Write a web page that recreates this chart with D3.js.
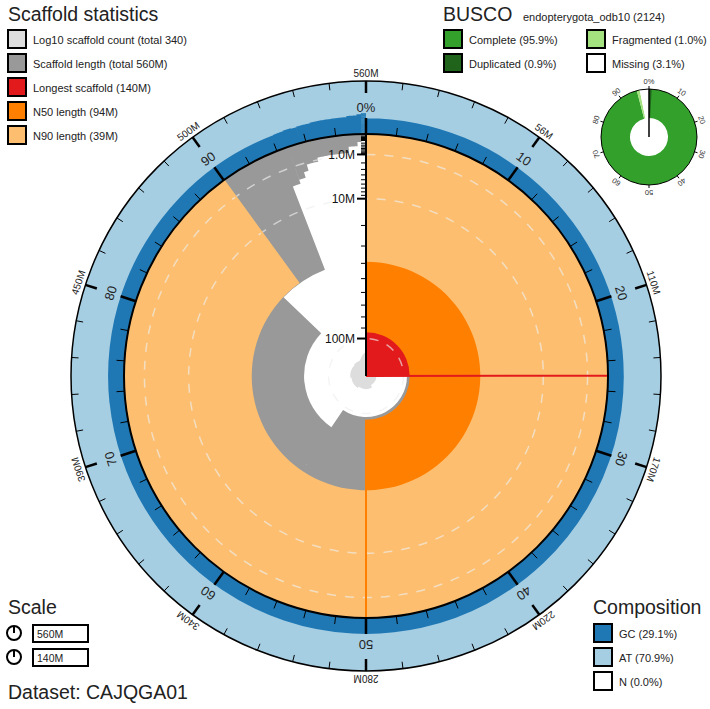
<!DOCTYPE html>
<html>
<head>
<meta charset="utf-8">
<script src="https://cdn.jsdelivr.net/npm/d3@7"></script>
<style>
  body { margin: 0; background: #fff; }
  svg { font-family: "Liberation Sans", Arial, sans-serif; }
</style>
</head>
<body>
<svg id="chart" width="710" height="709"></svg>
<script>
// ── Data ──────────────────────────────────────────────────────
const scaffoldLengths = [140e6, 96.6e6, 96.6e6, 77.6e6, 77.5e6, 39.2e6, 3.6e6, 2.9e6, 2.0e6];
const scaffoldGC = [0.289, 0.290, 0.291, 0.290, 0.292, 0.293, 0.30, 0.31, 0.30];
// the long tail of short scaffolds, grouped
const tailCounts = [4, 16, 10, 10, 291];
const tailLengths = [1.2e6, 0.8e6, 0.35e6, 0.15e6, 0.006e6];
const tailGC = [0.31, 0.32, 0.34, 0.36, 0.38];

const longestLength = 140e6;
const n50Length = 94e6;
const n90Length = 39e6;
const scaffoldCount = 340;

const compositionLabels = ['GC (29.1%)', 'AT (70.9%)', 'N (0.0%)'];
const buscoLineage = 'endopterygota_odb10 (2124)';
const buscoLabels = ['Complete (95.9%)', 'Duplicated (0.9%)', 'Fragmented (1.0%)', 'Missing (3.1%)'];
const buscoComplete = 0.959;
const buscoDuplicated = 0.009;
const buscoFragmented = 0.010;
const datasetName = 'CAJQGA01';

// colours
const C_COUNT = '#dddddd', C_LEN = '#999999', C_LONG = '#e31a1c', C_N50 = '#ff7f00', C_N90 = '#fdbf6f';
const C_GC = '#1f78b4', C_AT = '#a6cee3';
const C_COMPLETE = '#33a02c', C_DUP = '#20641c', C_FRAG = '#a3e27f';

const svg = d3.select('#chart');
const fmt = d3.format('.2s');
const TAU = Math.PI * 2;

// ── Build scaffold list ──────────────────────────────────────
const lengths = scaffoldLengths.concat(...tailCounts.map((n, i) => Array(n).fill(tailLengths[i])));
const gcs = scaffoldGC.concat(...tailCounts.map((n, i) => Array(n).fill(tailGC[i])));
const total = d3.sum(lengths);

const cx = 366, cy = 376, R_IN = 242, R_OUT = 295;
const aScale = d3.scaleLinear().domain([0, total]).range([0, TAU]);
const rScale = d3.scaleSqrt().domain([0, longestLength]).range([R_IN, 0]).clamp(true);
const cScale = d3.scaleSqrt().domain([0, Math.log10(scaffoldCount)]).range([0, 30]);
// GC band: 0..100% maps from just under the inner ring outward
const gcScale = d3.scaleLinear().domain([0, 1]).range([R_IN - 1, R_IN + 57]);

let cum = 0;
const scaffolds = lengths.map((len, i) => {
  const a0 = aScale(cum);
  cum += len;
  return { len, gc: gcs[i], a0, a1: aScale(cum), count: i + 1 };
});

const arc = d3.arc();
const g = svg.append('g').attr('transform', `translate(${cx},${cy})`);

// ── Composition ring ─────────────────────────────────────────
g.append('path')
  .attr('d', arc({ innerRadius: R_IN, outerRadius: R_OUT, startAngle: 0, endAngle: TAU }))
  .attr('fill', C_AT);

g.append('path')
  .attr('d', scaffolds.map(s => arc({ innerRadius: gcScale(0), outerRadius: gcScale(s.gc), startAngle: s.a0, endAngle: s.a1 })).join(''))
  .attr('fill', C_GC);

// ── Scaffold length spiral ───────────────────────────────────
g.append('path')
  .attr('d', scaffolds.map(s => arc({ innerRadius: rScale(s.len), outerRadius: R_IN, startAngle: s.a0, endAngle: s.a1 })).join(''))
  .attr('fill', C_LEN);

// ── Longest / N50 / N90 wedges ───────────────────────────────
const stats = [
  { len: longestLength, frac: longestLength / total, color: C_LONG },
  { len: n50Length, frac: 0.5, color: C_N50 },
  { len: n90Length, frac: 0.9, color: C_N90 }
];
g.selectAll('path.stat')
  .data(stats)
  .enter()
  .append('path')
  .attr('class', 'stat')
  .attr('d', d => arc({ innerRadius: rScale(d.len), outerRadius: R_IN, startAngle: 0, endAngle: d.frac * TAU }))
  .attr('fill', d => d.color);

// ── Log10 count spiral ───────────────────────────────────────
g.append('path')
  .attr('d', scaffolds.map(s => arc({ innerRadius: 0, outerRadius: cScale(Math.log10(s.count)), startAngle: s.a0, endAngle: s.a1 })).join(''))
  .attr('fill', C_COUNT);

// ── Grid circles ─────────────────────────────────────────────
const gridValues = [1e6, 1e7, 1e8];
g.selectAll('circle.grid')
  .data(gridValues)
  .enter()
  .append('circle')
  .attr('r', d => rScale(d))
  .attr('fill', 'none')
  .attr('stroke', '#eeeeee')
  .attr('stroke-opacity', 0.65)
  .attr('stroke-width', 1.5)
  .attr('stroke-dasharray', '9,9');

// stat lines
stats.forEach(d => {
  const p0 = d3.pointRadial(d.frac * TAU, rScale(d.len));
  const p1 = d3.pointRadial(d.frac * TAU, R_IN);
  g.append('line')
    .attr('x1', p0[0]).attr('y1', p0[1]).attr('x2', p1[0]).attr('y2', p1[1])
    .attr('stroke', d.color).attr('stroke-width', 2);
});

// ── Rings & ticks ────────────────────────────────────────────
g.append('circle').attr('r', R_IN).attr('fill', 'none').attr('stroke', '#000').attr('stroke-width', 2);
g.append('circle').attr('r', R_OUT).attr('fill', 'none').attr('stroke', '#000').attr('stroke-width', 1.5);

const pctTicks = d3.range(0, 100, 2);
const pScale = d3.scaleLinear().domain([0, 100]).range([0, TAU]);
pctTicks.forEach(p => {
  const major = p % 10 === 0;
  const a = pScale(p);
  const i0 = d3.pointRadial(a, R_IN), i1 = d3.pointRadial(a, R_IN + (major ? 16 : 8));
  g.append('line').attr('x1', i0[0]).attr('y1', i0[1]).attr('x2', i1[0]).attr('y2', i1[1])
    .attr('stroke', '#000').attr('stroke-width', major ? 2.5 : 1);
  const o0 = d3.pointRadial(a, R_OUT), o1 = d3.pointRadial(a, R_OUT - (major ? 12 : 7));
  g.append('line').attr('x1', o0[0]).attr('y1', o0[1]).attr('x2', o1[0]).attr('y2', o1[1])
    .attr('stroke', '#000').attr('stroke-width', major ? 2.5 : 1);
  if (major) {
    const deg = p * 3.6;
    const pi = d3.pointRadial(a, 264);
    g.append('text')
      .attr('transform', `translate(${pi[0]},${pi[1]}) rotate(${deg})`)
      .attr('text-anchor', 'middle')
      .attr('font-size', 13)
      .attr('fill', '#222')
      .text(p === 0 ? '0%' : p);
    const po = d3.pointRadial(a, 299);
    g.append('text')
      .attr('transform', `translate(${po[0]},${po[1]}) rotate(${deg})`)
      .attr('text-anchor', 'middle')
      .attr('font-size', 10)
      .attr('fill', '#222')
      .text(fmt(p === 0 ? total : total * p / 100));
  }
});

// ── Radial length axis ───────────────────────────────────────
const axisTicks = d3.scaleLog().domain([1e4, 1e8]).ticks();
g.append('line').attr('x1', 0).attr('y1', 0).attr('x2', 0).attr('y2', -R_IN)
  .attr('stroke', '#000').attr('stroke-width', 2);
axisTicks.forEach(v => {
  const major = gridValues.includes(v);
  const y = -rScale(v);
  g.append('line').attr('x1', 0).attr('x2', major ? -9 : -5).attr('y1', y).attr('y2', y)
    .attr('stroke', '#000').attr('stroke-width', major ? 2 : 1);
  if (major) {
    g.append('text').attr('x', -11).attr('y', y).attr('dy', '0.35em')
      .attr('text-anchor', 'end').attr('font-size', 12).attr('fill', '#111')
      .text(fmt(v));
  }
});

// ── Legends ──────────────────────────────────────────────────
function legendItem(x, y, color, label) {
  svg.append('rect').attr('x', x).attr('y', y).attr('width', 18).attr('height', 18)
    .attr('fill', color).attr('stroke', '#000').attr('stroke-width', 2);
  svg.append('text').attr('x', x + 25).attr('y', y + 13.5).attr('font-size', 11).attr('fill', '#222').text(label);
}
function title(x, y, t) {
  svg.append('text').attr('x', x).attr('y', y).attr('font-size', 19.5).attr('fill', '#222').text(t);
}

title(8, 21, 'Scaffold statistics');
const statLabels = [
  `Log10 scaffold count (total ${scaffoldCount})`,
  `Scaffold length (total ${fmt(total)})`,
  `Longest scaffold (${fmt(longestLength)})`,
  `N50 length (${fmt(n50Length)})`,
  `N90 length (${fmt(n90Length)})`
];
[C_COUNT, C_LEN, C_LONG, C_N50, C_N90].forEach((c, i) => legendItem(8, 30 + i * 24, c, statLabels[i]));

title(443, 21, 'BUSCO');
svg.append('text').attr('x', 523).attr('y', 21).attr('font-size', 11).attr('fill', '#222').text(buscoLineage);
legendItem(444, 30, C_COMPLETE, buscoLabels[0]);
legendItem(444, 54, C_DUP, buscoLabels[1]);
legendItem(587, 30, C_FRAG, buscoLabels[2]);
legendItem(587, 54, '#fff', buscoLabels[3]);

title(593, 614, 'Composition');
[C_GC, C_AT, '#fff'].forEach((c, i) => legendItem(594, 624 + i * 24, c, compositionLabels[i]));

title(8, 614, 'Scale');
[fmt(total), fmt(longestLength)].forEach((t, i) => {
  const y = 633 + i * 24;
  svg.append('circle').attr('cx', 14).attr('cy', y).attr('r', 7).attr('fill', 'none').attr('stroke', '#000').attr('stroke-width', 2);
  svg.append('line').attr('x1', 14).attr('x2', 14).attr('y1', y).attr('y2', y - 7).attr('stroke', '#000').attr('stroke-width', 2);
  svg.append('rect').attr('x', 33).attr('y', y - 8).attr('width', 55).attr('height', 17)
    .attr('fill', '#fff').attr('stroke', '#000').attr('stroke-width', 2);
  svg.append('text').attr('x', 37).attr('y', y + 4.5).attr('font-size', 10.5).attr('fill', '#222').text(t);
});

svg.append('text').attr('x', 8).attr('y', 699).attr('font-size', 19.5).attr('fill', '#222')
  .text(`Dataset: ${datasetName}`);

// ── BUSCO donut ──────────────────────────────────────────────
const bx = 649, by = 137, bIn = 19, bOut = 48;
const b = svg.append('g').attr('transform', `translate(${bx},${by})`);
const buscoArcs = [
  { a0: 0, a1: buscoComplete, color: C_COMPLETE },
  { a0: 0, a1: buscoDuplicated, color: C_DUP },
  { a0: buscoComplete, a1: buscoComplete + buscoFragmented, color: C_FRAG },
  { a0: buscoComplete + buscoFragmented, a1: 1, color: '#fff' }
];
b.selectAll('path')
  .data(buscoArcs)
  .enter()
  .append('path')
  .attr('d', d => arc({ innerRadius: bIn, outerRadius: bOut, startAngle: d.a0 * TAU, endAngle: d.a1 * TAU }))
  .attr('fill', d => d.color);
b.append('circle').attr('r', bOut).attr('fill', 'none').attr('stroke', '#000').attr('stroke-width', 1);
b.append('line').attr('x1', 0).attr('y1', 0).attr('x2', 0).attr('y2', -bOut).attr('stroke', '#000').attr('stroke-width', 1.5);
d3.range(0, 100, 10).forEach(p => {
  const a = pScale(p);
  const t0 = d3.pointRadial(a, bOut), t1 = d3.pointRadial(a, bOut + 3);
  b.append('line').attr('x1', t0[0]).attr('y1', t0[1]).attr('x2', t1[0]).attr('y2', t1[1])
    .attr('stroke', '#000').attr('stroke-width', 1);
  const pt = d3.pointRadial(a, bOut + 5);
  b.append('text')
    .attr('transform', `translate(${pt[0]},${pt[1]}) rotate(${p * 3.6})`)
    .attr('text-anchor', 'middle').attr('font-size', 7.5).attr('fill', '#333')
    .text(p === 0 ? '0%' : p);
});
</script>
</body>
</html>
